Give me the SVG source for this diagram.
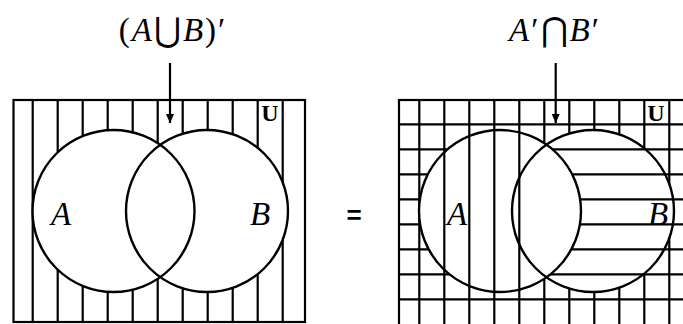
<svg xmlns="http://www.w3.org/2000/svg" width="683" height="324" viewBox="0 0 683 324">
<style>
.ln{stroke:#000;stroke-width:2.2;fill:none}
.c{stroke:#000;stroke-width:2.4;fill:none}
.lab{font-family:"Liberation Serif","DejaVu Serif",serif;font-size:33px;fill:#000}
.top{letter-spacing:2px}
.it{font-style:italic}
.u{font-family:"Liberation Serif",serif;font-weight:bold;font-size:24px;fill:#000}
.eq{font-family:"Liberation Sans",sans-serif;font-weight:bold;font-size:26px;fill:#000}
</style>
<defs>
<marker id="ah" viewBox="0 0 9 8" refX="9" refY="4" markerWidth="9" markerHeight="8" markerUnits="userSpaceOnUse" orient="auto">
<path d="M0,0 L9,4 L0,8 Z" fill="#000"/>
</marker>
<mask id="mL" maskUnits="userSpaceOnUse" x="0" y="0" width="683" height="324">
<rect x="0" y="0" width="683" height="324" fill="#fff"/>
<circle cx="113.5" cy="211" r="81" fill="#000"/>
<circle cx="207" cy="211" r="81" fill="#000"/>
</mask>
<mask id="mRv" maskUnits="userSpaceOnUse" x="0" y="0" width="683" height="324">
<rect x="0" y="0" width="683" height="324" fill="#fff"/>
<circle cx="500" cy="211" r="81" fill="#000"/>
<circle cx="593" cy="211" r="81" fill="#000"/>
</mask>
<mask id="mRh" maskUnits="userSpaceOnUse" x="0" y="0" width="683" height="324">
<rect x="0" y="0" width="683" height="324" fill="#fff"/>
<circle cx="500" cy="211" r="81" fill="#000"/>
</mask>
<clipPath id="cA"><circle cx="500" cy="211" r="81"/></clipPath>
</defs>

<g id="label-left">
<text class="lab top" x="173" y="41" text-anchor="middle">(<tspan class="it">A</tspan>⋃<tspan class="it">B</tspan>)′</text>
</g>
<g id="label-right">
<text class="lab top" x="555" y="41" text-anchor="middle"><tspan class="it">A</tspan>′⋂<tspan class="it">B</tspan>′</text>
</g>

<g id="venn-left">
<g class="ln" mask="url(#mL)">
<path d="M32.7,100V322M57.7,100V322M82.7,100V322M107.7,100V322M132.7,100V322M157.7,100V322M182.7,100V322M207.7,100V322M232.7,100V322M257.7,100V322M282.7,100V322"/>
</g>
<rect class="ln" x="13.5" y="100" width="291.5" height="222"/>
<circle class="c" cx="113.5" cy="211" r="81"/>
<circle class="c" cx="207" cy="211" r="81"/>
<text class="lab it" x="61" y="225" text-anchor="middle">A</text>
<text class="lab it" x="260" y="225" text-anchor="middle">B</text>
<text class="u" x="270" y="121" text-anchor="middle">U</text>
</g>

<g id="equals">
<text class="eq" x="354" y="224" text-anchor="middle">=</text>
</g>

<g id="venn-right">
<g class="ln" mask="url(#mRv)">
<path d="M419.3,100V330M444.3,100V330M469.3,100V330M494.3,100V330M519.3,100V330M544.3,100V330M569.3,100V330M594.3,100V330M619.3,100V330M644.3,100V330M669.3,100V330"/>
</g>
<g class="ln" clip-path="url(#cA)">
<path d="M444.3,100V330M469.3,100V330M494.3,100V330M519.3,100V330"/>
</g>
<g class="ln" mask="url(#mRh)">
<path d="M399,124.3H690M399,149.3H690M399,174.3H690M399,199.3H690M399,224.3H690M399,249.3H690M399,274.3H690M399,299.3H690"/>
</g>
<rect class="ln" x="399" y="100" width="300" height="240"/>
<circle class="c" cx="500" cy="211" r="81"/>
<circle class="c" cx="593" cy="211" r="81"/>
<text class="lab it" x="457" y="225" text-anchor="middle">A</text>
<text class="lab it" x="658" y="225" text-anchor="middle">B</text>
<text class="u" x="656" y="121" text-anchor="middle">U</text>
</g>

<g id="connectors">
<line class="ln" x1="170" y1="63" x2="170" y2="123" marker-end="url(#ah)"/>
<line class="ln" x1="555.7" y1="63" x2="555.7" y2="123" marker-end="url(#ah)"/>
</g>
</svg>
